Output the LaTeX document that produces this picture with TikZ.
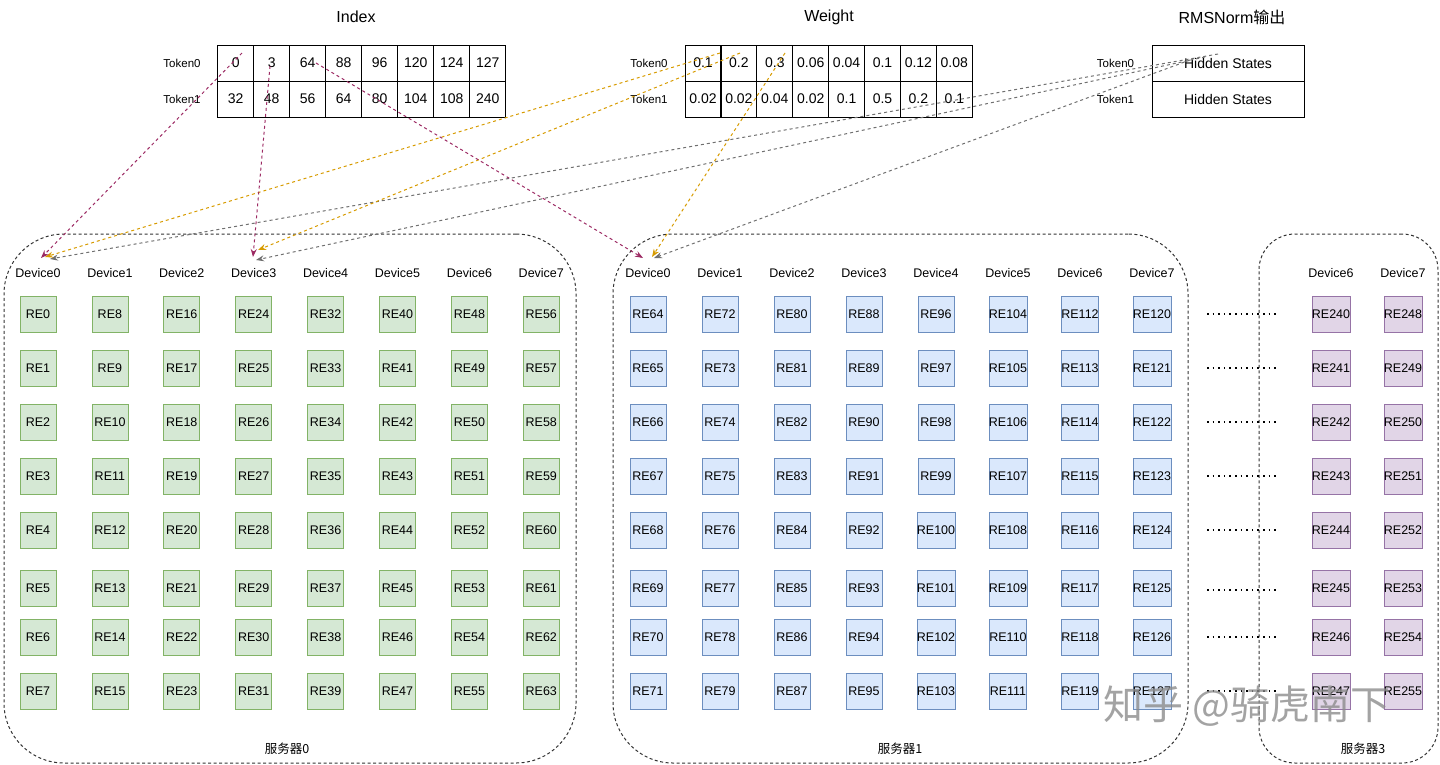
\documentclass[tikz,border=0pt]{standalone}
\usepackage{fontspec}
\setmainfont{Liberation Sans}
\newfontfamily\cjk{Noto Sans CJK SC}
\usetikzlibrary{arrows.meta,calc}
\definecolor{gfill}{HTML}{D5E8D4}\definecolor{gline}{HTML}{82B366}
\definecolor{bfill}{HTML}{DAE8FC}\definecolor{bline}{HTML}{6C8EBF}
\definecolor{pfill}{HTML}{E1D5E7}\definecolor{pline}{HTML}{9673A6}
\definecolor{cpurple}{HTML}{9C2A63}
\definecolor{corange}{HTML}{D79B00}
\definecolor{cgray}{HTML}{707070}
\tikzset{
  cell/.style={draw, line width=1pt, minimum width=36pt, minimum height=36pt, inner sep=0pt, font=\fontsize{14}{16}\selectfont},
  widecell/.style={draw, line width=1pt, minimum width=152pt, minimum height=36pt, inner sep=0pt, font=\fontsize{14}{16}\selectfont},
  rebox/.style={draw, line width=0.8pt, minimum width=36pt, minimum height=36pt, inner sep=0pt, font=\fontsize{12.5}{14}\selectfont},
  gre/.style={rebox, fill=gfill, draw=gline},
  bre/.style={rebox, fill=bfill, draw=bline},
  pre/.style={rebox, fill=pfill, draw=pline},
  devlbl/.style={font=\fontsize{12.5}{14}\selectfont, inner sep=0pt},
  toklbl/.style={font=\fontsize{11.5}{13}\selectfont, inner sep=0pt},
  titlelbl/.style={font=\fontsize{16}{18}\selectfont, inner sep=0pt},
  srvlbl/.style={font=\cjk\fontsize{12.5}{14}\selectfont, inner sep=0pt},
  server/.style={draw=black!80, line width=1pt, dash pattern=on 3pt off 2.5pt, rounded corners=#1, inner sep=0pt},
  link/.style={line width=1pt, dash pattern=on 3pt off 3pt, -{Stealth[length=8pt,width=6pt]}},
  dotline/.style={line width=1.6pt, dash pattern=on 1.6pt off 4pt},
}
\begin{document}
\begin{tikzpicture}[x=1pt,y=-1pt]
\useasboundingbox (0,0) rectangle (1440,764);

% server boxes
\node[server=60pt, minimum width=572pt, minimum height=529pt] (srv0) at (290,498.5) {};
\node[server=60pt, minimum width=575pt, minimum height=529pt] (srv1) at (900.5,498.5) {};
\node[server=36pt, minimum width=179pt, minimum height=529pt] (srv3) at (1348.5,498.5) {};
\node[srvlbl] (srv0lbl) at (287,749) {服务器0};
\node[srvlbl] (srv1lbl) at (900,749) {服务器1};
\node[srvlbl] (srv3lbl) at (1363,749) {服务器3};

% titles
\node[titlelbl] (tIndex) at (356,17) {Index};
\node[titlelbl] (tWeight) at (829,17) {Weight};
\node[titlelbl] (tRms) at (1232,17) {RMSNorm{\cjk 输出}};

% token labels
\node[toklbl] (it0) at (182,63) {Token0};
\node[toklbl] (it1) at (182,99) {Token1};
\node[toklbl] (wt0) at (649,63) {Token0};
\node[toklbl] (wt1) at (649,99) {Token1};
\node[toklbl] (rt0) at (1115.5,63) {Token0};
\node[toklbl] (rt1) at (1115.5,99) {Token1};

% Index table
\foreach \v [count=\k from 0] in {0,3,64,88,96,120,124,127}
  \node[cell] (i0-\k) at ({235.7+36*\k},63) {\v};
\foreach \v [count=\k from 0] in {32,48,56,64,80,104,108,240}
  \node[cell] (i1-\k) at ({235.7+36*\k},99) {\v};
% Weight table
\foreach \v [count=\k from 0] in {0.1,0.2,0.3,0.06,0.04,0.1,0.12,0.08}
  \node[cell] (w0-\k) at ({703+35.9*\k},63) {\v};
\foreach \v [count=\k from 0] in {0.02,0.02,0.04,0.02,0.1,0.5,0.2,0.1}
  \node[cell] (w1-\k) at ({703+35.9*\k},99) {\v};
% RMSNorm table
\node[widecell] (h0) at (1228,63) {Hidden States};
\node[widecell] (h1) at (1228,99) {Hidden States};

% server 0
\foreach \c in {0,...,7}{
  \node[devlbl] (d0-\c) at ({38+71.9*\c},273) {Device\c};
  \foreach \r/\yy in {0/314,1/368,2/422,3/476,4/530,5/588,6/637,7/691}{
    \pgfmathtruncatemacro\n{8*\c+\r}
    \node[gre] (re\n) at ({38+71.9*\c},\yy) {RE\n};
  }
}
% server 1
\foreach \c in {0,...,7}{
  \node[devlbl] (d1-\c) at ({648+72*\c},273) {Device\c};
  \foreach \r/\yy in {0/314,1/368,2/422,3/476,4/530,5/588,6/637,7/691}{
    \pgfmathtruncatemacro\n{64+8*\c+\r}
    \node[bre] (re\n) at ({648+72*\c},\yy) {RE\n};
  }
}
% server 3
\foreach \c/\xx in {6/1331,7/1403}{
  \node[devlbl] (d3-\c) at (\xx,273) {Device\c};
  \foreach \r/\yy in {0/314,1/368,2/422,3/476,4/530,5/588,6/637,7/691}{
    \pgfmathtruncatemacro\n{192+8*\c+\r}
    \node[pre] (re\n) at (\xx,\yy) {RE\n};
  }
}
% dotted gaps
\foreach \yy in {314,368,422,476,530,590,637,691}
  \draw[dotline] (1207,\yy) -- (1276,\yy);

% connector endpoints
\coordinate (sA1) at (242,53);  \coordinate (tA1) at (41,258);
\coordinate (sA2) at (270,66);  \coordinate (tA2) at (253,257);
\coordinate (sA3) at (316,63);  \coordinate (tA3) at (643,258);
\coordinate (sB1) at (720,53);  \coordinate (tB1) at (45,257);
\coordinate (sB2) at (740,53);  \coordinate (tB2) at (258,250);
\coordinate (sB3) at (785,53);  \coordinate (tB3) at (652,257);
\coordinate (sC1) at (1218,54); \coordinate (tC1) at (50,259);
\coordinate (sC2) at (1205,57); \coordinate (tC2) at (256,260);
\coordinate (sC3) at (1190,60); \coordinate (tC3) at (654,258);

\draw[link, cgray] (sC1) -- (tC1);
\draw[link, cgray] (sC2) -- (tC2);
\draw[link, cgray] (sC3) -- (tC3);
\draw[link, corange] (sB1) -- (tB1);
\draw[link, corange] (sB2) -- (tB2);
\draw[link, corange] (sB3) -- (tB3);
\draw[link, cpurple] (sA1) -- (tA1);
\draw[link, cpurple] (sA2) -- (tA2);
\draw[link, cpurple] (sA3) -- (tA3);

% watermark
\node[font=\cjk\fontsize{40}{42}\selectfont, text=black!45, opacity=0.8, inner sep=0pt] (wm) at (1247,706) {知乎 @骑虎南下};
\end{tikzpicture}
\end{document}
